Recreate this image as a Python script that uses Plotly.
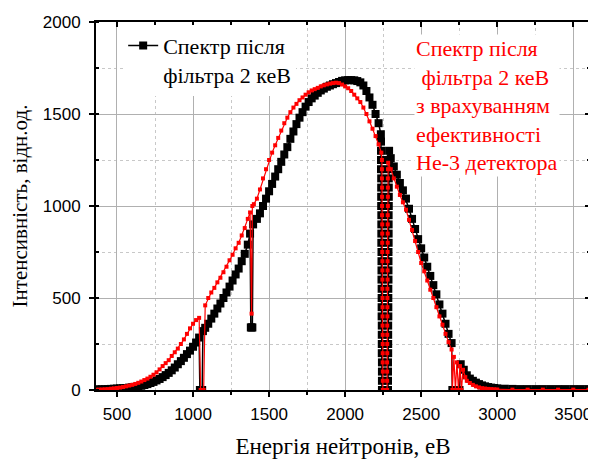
import plotly.graph_objects as go

# Black: spectrum after 2 keV filter  (energy eV, intensity)
black_points = [
    (360, 3), (380, 3), (400, 4), (420, 4), (440, 5), (460, 6), (480, 7), (500, 8),
    (520, 9), (540, 10), (560, 11), (580, 13), (600, 15), (620, 17), (640, 20), (660, 23),
    (680, 27), (700, 32), (720, 38), (740, 44), (760, 52), (780, 60), (800, 70), (820, 81),
    (840, 93), (860, 107), (880, 122), (900, 140), (920, 157), (940, 175), (960, 195),
    (980, 214), (1000, 235), (1020, 258), (1040, 285), (1045, 0), (1050, 0), (1055, 0),
    (1060, 0), (1065, 320), (1080, 338), (1100, 360), (1120, 388), (1140, 415), (1160, 443),
    (1180, 470), (1200, 500), (1220, 530), (1240, 562), (1260, 595), (1280, 628), (1300, 660),
    (1320, 700), (1340, 740), (1360, 790), (1375, 850), (1380, 340), (1385, 340), (1390, 340),
    (1395, 900), (1420, 930), (1440, 960), (1460, 1000), (1480, 1040), (1500, 1080),
    (1520, 1120), (1540, 1160), (1560, 1200), (1580, 1240), (1600, 1280), (1620, 1320),
    (1640, 1365), (1660, 1405), (1680, 1445), (1700, 1480), (1720, 1510), (1740, 1540),
    (1760, 1565), (1780, 1585), (1800, 1600), (1820, 1615), (1840, 1628), (1860, 1638),
    (1880, 1648), (1900, 1655), (1920, 1662), (1940, 1668), (1960, 1674), (1980, 1680),
    (2000, 1683), (2020, 1684), (2040, 1684), (2060, 1683), (2080, 1679), (2100, 1672),
    (2120, 1655), (2140, 1625), (2160, 1590), (2180, 1550), (2200, 1500), (2220, 1450),
    (2235, 1390), (2236, 1350), (2236, 1300), (2236, 1250), (2236, 1200), (2237, 1150),
    (2237, 1100), (2237, 1050), (2237, 1000), (2238, 950), (2238, 900), (2238, 850),
    (2238, 800), (2239, 750), (2239, 700), (2239, 650), (2239, 600), (2240, 550),
    (2240, 500), (2240, 450), (2240, 400), (2241, 350), (2241, 300), (2241, 250),
    (2241, 200), (2242, 150), (2242, 100), (2242, 50), (2242, 0), (2262, 0),
    (2282, 0), (2282, 50), (2282, 100), (2282, 150), (2283, 200), (2283, 250), (2283, 300),
    (2283, 350), (2284, 400), (2284, 450), (2284, 500), (2284, 550), (2285, 600),
    (2285, 650), (2285, 700), (2285, 750), (2286, 800), (2286, 850), (2286, 900),
    (2286, 950), (2287, 1000), (2287, 1050), (2287, 1100), (2287, 1150), (2288, 1200),
    (2288, 1250), (2289, 1300), (2300, 1260), (2320, 1215), (2340, 1170), (2360, 1125),
    (2380, 1085), (2400, 1040), (2420, 985), (2440, 930), (2460, 875), (2480, 820),
    (2500, 770), (2520, 720), (2540, 670), (2560, 620), (2580, 570), (2600, 520),
    (2620, 465), (2640, 415), (2660, 360), (2680, 305), (2700, 255), (2705, 0),
    (2720, 0), (2740, 0), (2752, 0), (2760, 140), (2780, 110), (2800, 80), (2820, 62),
    (2840, 50), (2860, 40), (2880, 32), (2900, 25), (2920, 20), (2940, 16), (2960, 13),
    (2980, 11), (3000, 9), (3050, 7), (3100, 6), (3150, 5), (3200, 5), (3250, 5),
    (3300, 5), (3350, 5), (3400, 5), (3450, 5), (3500, 5), (3550, 5), (3600, 5),
]

# Red: spectrum accounting for He-3 detector efficiency  (energy eV, intensity)
red_points = [
    (360, 2), (380, 2), (400, 3), (420, 4), (440, 5), (460, 7), (480, 9), (500, 11),
    (520, 13), (540, 16), (560, 20), (580, 24), (600, 28), (620, 33), (640, 39), (660, 46),
    (680, 54), (700, 62), (720, 72), (740, 83), (760, 96), (780, 112), (800, 130),
    (820, 146), (840, 162), (860, 185), (880, 205), (900, 225), (920, 250), (940, 275),
    (960, 305), (980, 335), (1000, 360), (1020, 380), (1040, 392), (1050, 0), (1060, 0),
    (1070, 0), (1080, 460), (1100, 500), (1120, 530), (1140, 555), (1160, 585), (1180, 610),
    (1200, 640), (1220, 670), (1240, 705), (1260, 735), (1280, 770), (1300, 800),
    (1320, 840), (1340, 880), (1360, 930), (1375, 965), (1385, 415), (1390, 1000),
    (1400, 1010), (1420, 1040), (1440, 1090), (1460, 1150), (1480, 1200), (1500, 1250),
    (1520, 1290), (1540, 1330), (1560, 1370), (1580, 1410), (1600, 1450), (1620, 1480),
    (1640, 1510), (1660, 1535), (1680, 1555), (1700, 1575), (1720, 1590), (1740, 1605),
    (1760, 1618), (1780, 1628), (1800, 1635), (1820, 1642), (1840, 1650), (1860, 1656),
    (1880, 1661), (1900, 1665), (1920, 1668), (1940, 1670), (1960, 1668), (1980, 1660),
    (2000, 1650), (2020, 1640), (2040, 1625), (2060, 1605), (2080, 1585), (2100, 1565),
    (2120, 1535), (2140, 1500), (2160, 1460), (2180, 1420), (2200, 1380), (2220, 1335),
    (2238, 1290), (2242, 1250), (2242, 1200), (2242, 1150), (2243, 1100), (2243, 1050),
    (2243, 1000), (2243, 950), (2244, 900), (2244, 850), (2244, 800), (2244, 750),
    (2245, 700), (2245, 650), (2245, 600), (2245, 550), (2246, 500), (2246, 450),
    (2246, 400), (2246, 350), (2247, 300), (2247, 250), (2247, 200), (2247, 150),
    (2248, 100), (2248, 50), (2248, 0), (2262, 0), (2276, 0), (2276, 50), (2276, 100),
    (2276, 150), (2277, 200), (2277, 250), (2277, 300), (2277, 350), (2278, 400),
    (2278, 450), (2278, 500), (2278, 550), (2279, 600), (2279, 650), (2279, 700),
    (2279, 750), (2280, 800), (2280, 850), (2280, 900), (2280, 950), (2281, 1000),
    (2281, 1050), (2281, 1100), (2281, 1150), (2282, 1200), (2283, 1235), (2300, 1200),
    (2320, 1150), (2340, 1105), (2360, 1060), (2380, 1020), (2400, 980), (2420, 925),
    (2440, 870), (2460, 810), (2480, 750), (2500, 690), (2520, 645), (2540, 595),
    (2560, 545), (2580, 500), (2600, 450), (2620, 400), (2640, 355), (2660, 305),
    (2680, 260), (2700, 220), (2705, 0), (2715, 180), (2725, 0), (2735, 150),
    (2745, 0), (2755, 130), (2765, 0), (2775, 110), (2790, 70), (2800, 50), (2820, 38),
    (2840, 28), (2860, 20), (2880, 14), (2900, 10), (2920, 8), (2940, 6), (2960, 5),
    (2980, 4), (3000, 3), (3100, 2), (3200, 2), (3300, 2), (3400, 2), (3500, 2), (3600, 2),
]

x_ticks = [500, 1000, 1500, 2000, 2500, 3000, 3500]
y_ticks = [0, 500, 1000, 1500, 2000]
x_range = [362, 3610]
y_range = [0, 2000]

energy_black = [p[0] for p in black_points]
intensity_black = [p[1] for p in black_points]
energy_red = [p[0] for p in red_points]
intensity_red = [p[1] for p in red_points]

serif = "Liberation Serif"
sans = "Arial"

fig = go.Figure()
fig.add_trace(go.Scatter(
    x=energy_black, y=intensity_black, mode="lines+markers",
    name="Спектр після<br>фільтра 2 кеВ",
    line=dict(color="black", width=1.5),
    marker=dict(symbol="square", size=8, color="black")))
fig.add_trace(go.Scatter(
    x=energy_red, y=intensity_red, mode="lines+markers",
    line=dict(color="red", width=1.2),
    marker=dict(symbol="square", size=4, color="red"),
    showlegend=False))
fig.add_trace(go.Scatter(x=[], y=[], xaxis="x2", yaxis="y2", showlegend=False))

common_grid = dict(showgrid=True, gridcolor="#b0b0b0", gridwidth=1)
fig.update_layout(
    width=588, height=451,
    margin=dict(l=88, r=6, t=14, b=69),
    paper_bgcolor="white", plot_bgcolor="white",
    xaxis=dict(range=x_range, tickvals=x_ticks, ticks="outside", ticklen=5, tickwidth=2,
               tickcolor="black", showline=True, linecolor="black", linewidth=2,
               zeroline=False, tickfont=dict(family=sans, size=17, color="black"),
               ticklabelstandoff=3, automargin=False,
               title=dict(text="Енергія нейтронів, еВ", font=dict(family=serif, size=23, color="black"),
                          standoff=14),
               minor=dict(dtick=250, tick0=250, ticks="outside", ticklen=3, tickcolor="black",
                          showgrid=True, gridcolor="#c8c8c8", griddash="dot", gridwidth=1),
               **common_grid),
    yaxis=dict(range=y_range, tickvals=y_ticks, ticks="outside", ticklen=5, tickwidth=2,
               tickcolor="black", showline=True, linecolor="black", linewidth=2,
               zeroline=False, tickfont=dict(family=sans, size=17, color="black"),
               ticklabelstandoff=5, automargin=False,
               title=dict(text="Інтенсивність, відн.од.", font=dict(family=serif, size=21, color="black"),
                          standoff=18),
               minor=dict(dtick=250, tick0=250, ticks="inside", ticklen=3, tickcolor="black",
                          showgrid=True, gridcolor="#c8c8c8", griddash="dot", gridwidth=1),
               **common_grid),
    xaxis2=dict(range=x_range, overlaying="x", side="top", tickvals=x_ticks, ticks="inside",
                ticklen=5, tickwidth=2, tickcolor="black", showticklabels=False, showgrid=False,
                showline=True, linecolor="black", linewidth=2, zeroline=False, automargin=False,
                minor=dict(dtick=250, tick0=250, ticks="inside", ticklen=3, tickcolor="black")),
    yaxis2=dict(range=y_range, overlaying="y", side="right", tickvals=y_ticks, ticks="inside",
                ticklen=5, tickwidth=2, tickcolor="black", showticklabels=False, showgrid=False,
                showline=True, linecolor="black", linewidth=2, zeroline=False, automargin=False,
                minor=dict(dtick=250, tick0=250, ticks="inside", ticklen=3, tickcolor="black")),
    legend=dict(x=0.055, y=0.993, xanchor="left", yanchor="top", bgcolor="white",
                font=dict(family=serif, size=22, color="black"), valign="top",
                borderwidth=0),
    annotations=[dict(
        xref="paper", yref="paper", x=0.644, y=0.968, xanchor="left", yanchor="top",
        align="left", showarrow=False, bgcolor="white",
        text="Спектр після<br>\u00a0фільтра 2 кеВ<br>з врахуванням<br>ефективності<br>Не-3 детектора",
        font=dict(family=serif, size=22, color="red"))],
)

fig.write_html("out.html")
